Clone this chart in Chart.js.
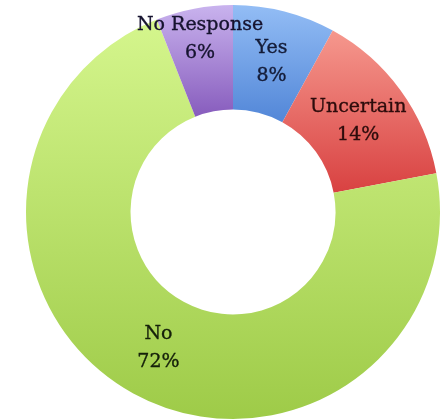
<!DOCTYPE html>
<html><head><meta charset="utf-8">
<script src="https://cdn.jsdelivr.net/npm/chart.js@4"></script>
<style>html,body{margin:0;padding:0;background:#fff;}canvas{display:block}</style>
</head><body>
<canvas id="c" width="444" height="420"></canvas>
<script>
const categories = ['Yes', 'Uncertain', 'No', 'No Response'];
const values = [8, 14, 72, 6];
const percentLabels = ['8%', '14%', '72%', '6%'];

const segmentStyles = [
  {top: '#93bdf5', bottom: '#5589d9', from: 0.0, to: 0.27},
  {top: '#f5968c', bottom: '#d84040', from: 0.07, to: 0.46},
  {top: '#d4f58c', bottom: '#9ecb48', from: 0.05, to: 1.0},
  {top: '#c9b3ee', bottom: '#875cbd', from: 0.0, to: 0.27}
];
const labelStyles = [
  {color: '#141c38', r: 0.5},
  {color: '#2e0c0c', r: 0.5},
  {color: '#15200a', r: 0.5},
  {color: '#16132f', r: 0.70}
];

function segFill(ctx) {
  const st = segmentStyles[ctx.dataIndex];
  const area = ctx.chart.chartArea;
  if (!area) return st.bottom;
  const h = area.bottom - area.top;
  const g = ctx.chart.ctx.createLinearGradient(0, area.top + st.from * h, 0, area.top + st.to * h);
  g.addColorStop(0, st.top);
  g.addColorStop(1, st.bottom);
  return g;
}

const labelPlugin = {
  id: 'segLabels',
  afterDatasetsDraw(chart) {
    const meta = chart.getDatasetMeta(0);
    const c = chart.ctx;
    c.save();
    c.font = '19px "DejaVu Serif"';
    c.textAlign = 'center';
    c.textBaseline = 'middle';
    c.lineWidth = 0.35;
    meta.data.forEach((el, i) => {
      const mid = (el.startAngle + el.endAngle) / 2;
      const rad = el.innerRadius + labelStyles[i].r * (el.outerRadius - el.innerRadius);
      const x = el.x + Math.cos(mid) * rad;
      const y = el.y + Math.sin(mid) * rad;
      c.fillStyle = labelStyles[i].color;
      c.strokeStyle = labelStyles[i].color;
      c.fillText(categories[i], x, y - 14);
      c.strokeText(categories[i], x, y - 14);
      c.fillText(percentLabels[i], x, y + 14);
      c.strokeText(percentLabels[i], x, y + 14);
    });
    c.restore();
  }
};

new Chart(document.getElementById('c'), {
  type: 'doughnut',
  data: {
    labels: categories,
    datasets: [{
      data: values,
      backgroundColor: segFill,
      borderWidth: 0
    }]
  },
  options: {
    responsive: false,
    animation: false,
    events: [],
    cutout: '49.5%',
    layout: {padding: {left: 22, right: 0, top: 5, bottom: 1}},
    plugins: {legend: {display: false}, tooltip: {enabled: false}}
  },
  plugins: [labelPlugin]
});
</script>
</body></html>
